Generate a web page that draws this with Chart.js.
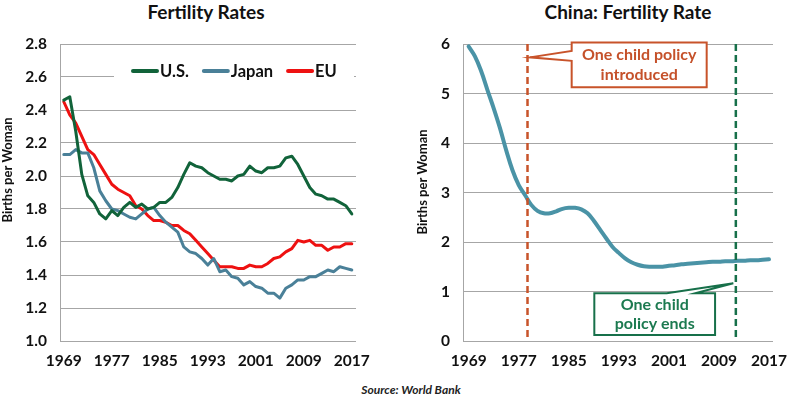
<!DOCTYPE html>
<html>
<head>
<meta charset="utf-8">
<script src="https://cdn.jsdelivr.net/npm/chart.js@4.4.1/dist/chart.umd.min.js"></script>
<style>
  body { margin: 0; background: #fff; width: 800px; height: 396px; overflow: hidden; position: relative; font-family: Lato, sans-serif; }
  canvas { position: absolute; top: 0; }
  #fertility { left: 0; }
  #china { left: 400px; }
  .title { position: absolute; top: 0; line-height: 26px; font: bold 19px Lato, sans-serif; color: #111; white-space: nowrap; transform: translateX(-50%); }
  #t1 { left: 206px; }
  #t2 { left: 628px; }
  #source { position: absolute; top: 382px; left: 411px; transform: translateX(-50%); line-height: 14px; font: italic bold 12px Lato, sans-serif; color: #222; white-space: nowrap; }
</style>
</head>
<body>
<div class="title" id="t1">Fertility Rates</div>
<div class="title" id="t2">China: Fertility Rate</div>
<canvas id="fertility" width="400" height="372"></canvas>
<canvas id="china" width="400" height="372"></canvas>
<div id="source">Source: World Bank</div>

<script>
// values (World Bank, births per woman)
const years = [1969, 1970, 1971, 1972, 1973, 1974, 1975, 1976, 1977, 1978,
  1979, 1980, 1981, 1982, 1983, 1984, 1985, 1986, 1987, 1988,
  1989, 1990, 1991, 1992, 1993, 1994, 1995, 1996, 1997, 1998,
  1999, 2000, 2001, 2002, 2003, 2004, 2005, 2006, 2007, 2008,
  2009, 2010, 2011, 2012, 2013, 2014, 2015, 2016, 2017];

const usRate = [2.46, 2.48, 2.27, 2.01, 1.88, 1.84, 1.77, 1.74, 1.79, 1.76,
  1.81, 1.84, 1.81, 1.83, 1.80, 1.81, 1.84, 1.84, 1.87, 1.93,
  2.01, 2.08, 2.06, 2.05, 2.02, 2.00, 1.98, 1.98, 1.97, 2.00,
  2.01, 2.06, 2.03, 2.02, 2.05, 2.05, 2.06, 2.11, 2.12, 2.07,
  2.00, 1.93, 1.89, 1.88, 1.86, 1.86, 1.84, 1.82, 1.77];

const japanRate = [2.13, 2.13, 2.16, 2.14, 2.14, 2.05, 1.91, 1.85, 1.80, 1.79,
  1.77, 1.75, 1.74, 1.77, 1.80, 1.81, 1.76, 1.72, 1.69, 1.66,
  1.57, 1.54, 1.53, 1.50, 1.46, 1.50, 1.42, 1.43, 1.39, 1.38,
  1.34, 1.36, 1.33, 1.32, 1.29, 1.29, 1.26, 1.32, 1.34, 1.37,
  1.37, 1.39, 1.39, 1.41, 1.43, 1.42, 1.45, 1.44, 1.43];

const euRate = [2.45, 2.37, 2.32, 2.24, 2.16, 2.13, 2.07, 2.01, 1.95, 1.92,
  1.90, 1.88, 1.82, 1.80, 1.76, 1.73, 1.73, 1.72, 1.70, 1.70,
  1.67, 1.65, 1.61, 1.57, 1.53, 1.49, 1.45, 1.45, 1.45, 1.44,
  1.44, 1.46, 1.45, 1.45, 1.47, 1.50, 1.51, 1.54, 1.56, 1.61,
  1.60, 1.61, 1.58, 1.58, 1.55, 1.57, 1.57, 1.59, 1.59];

const chinaRate = [5.95, 5.75, 5.45, 5.07, 4.70, 4.30, 3.85, 3.45, 3.15, 2.95,
  2.75, 2.63, 2.58, 2.58, 2.62, 2.67, 2.69, 2.69, 2.66, 2.58,
  2.43, 2.25, 2.07, 1.90, 1.78, 1.67, 1.59, 1.54, 1.51, 1.50,
  1.50, 1.50, 1.52, 1.53, 1.55, 1.56, 1.57, 1.58, 1.59, 1.60,
  1.60, 1.61, 1.61, 1.62, 1.62, 1.63, 1.63, 1.64, 1.65];

const tickYears = [1969, 1977, 1985, 1993, 2001, 2009, 2017];
const fertilityTicks = [1.0, 1.2, 1.4, 1.6, 1.8, 2.0, 2.2, 2.4, 2.6, 2.8];
const chinaTicks = [0, 1, 2, 3, 4, 5, 6];

// where the dashed policy markers sit on the year axis, as drawn
const policyIntroduced = 1978.4;
const policyEnded = 2011.7;

const tickFont = { family: 'Lato', size: 15.5, weight: 'bold' };
const gridGrey = '#a6a6a6';

function points(values) {
  return years.map((yr, i) => ({ x: yr, y: values[i] }));
}

function xAxis(min, max) {
  return {
    type: 'linear',
    min, max,
    afterBuildTicks: s => { s.ticks = tickYears.map(v => ({ value: v })); },
    afterFit: s => { s.height = 31; },
    grid: { display: false, drawTicks: false },
    border: { display: false },
    ticks: { color: '#111', font: tickFont, padding: 11, maxRotation: 0, autoSkip: false, callback: v => String(v) }
  };
}

function yAxis(ticks, width, fmt) {
  return {
    type: 'linear',
    min: ticks[0],
    max: ticks[ticks.length - 1],
    afterBuildTicks: s => { s.ticks = ticks.map(v => ({ value: v })); },
    afterFit: s => { s.width = width; },
    grid: { color: gridGrey, drawTicks: false },
    border: { color: gridGrey },
    ticks: { color: '#111', font: tickFont, padding: 13, callback: fmt }
  };
}

// rotated "Births per Woman" label, Excel puts it a little off centre
const axisTitle = {
  id: 'axisTitle',
  afterDraw(chart, args, opts) {
    const { ctx } = chart;
    ctx.save();
    ctx.translate(opts.x, opts.y);
    ctx.rotate(-Math.PI / 2);
    ctx.font = 'bold 13px Lato';
    ctx.fillStyle = '#111';
    ctx.textAlign = 'center';
    ctx.textBaseline = 'middle';
    ctx.fillText(opts.text, 0, 0);
    ctx.restore();
  }
};

// legend sits inside the plot on a white patch that hides the 2.6 gridline
const insideLegend = {
  id: 'insideLegend',
  beforeDatasetsDraw(chart, args, opts) {
    const { ctx } = chart;
    ctx.save();
    ctx.fillStyle = '#fff';
    ctx.fillRect(...opts.patch);
    ctx.font = 'bold 16.5px Lato';
    ctx.textBaseline = 'middle';
    let x = opts.x;
    chart.data.datasets.forEach(ds => {
      ctx.strokeStyle = ds.borderColor;
      ctx.lineWidth = 4;
      ctx.lineCap = 'round';
      ctx.beginPath();
      ctx.moveTo(x, opts.y);
      ctx.lineTo(x + opts.line, opts.y);
      ctx.stroke();
      x += opts.line + opts.gap;
      ctx.fillStyle = '#111';
      ctx.fillText(ds.label, x, opts.y + 1);
      x += ctx.measureText(ds.label).width + opts.spacing;
    });
    ctx.restore();
  }
};

// dashed policy lines + callout boxes, placed in data units
const policyMarks = {
  id: 'policyMarks',
  afterDatasetsDraw(chart, args, opts) {
    const { ctx, chartArea, scales: { x, y } } = chart;
    opts.marks.forEach(m => {
      const px = x.getPixelForValue(m.year);
      ctx.save();
      ctx.strokeStyle = m.color;
      ctx.lineWidth = 2.5;
      ctx.setLineDash([7, 4]);
      ctx.beginPath();
      ctx.moveTo(px, chartArea.top);
      ctx.lineTo(px, chartArea.bottom);
      ctx.stroke();
      ctx.setLineDash([]);

      const L = x.getPixelForValue(m.box[0]), R = x.getPixelForValue(m.box[1]);
      const T = y.getPixelForValue(m.box[2]), B = y.getPixelForValue(m.box[3]);
      const p = m.pointer.map(q => [x.getPixelForValue(q[0]), y.getPixelForValue(q[1])]);
      ctx.beginPath();
      ctx.moveTo(L, T);
      if (m.side === 'top') {
        ctx.lineTo(...p[0]); ctx.lineTo(...p[1]); ctx.lineTo(...p[2]);
        ctx.lineTo(R, T); ctx.lineTo(R, B); ctx.lineTo(L, B);
      } else {
        ctx.lineTo(R, T); ctx.lineTo(R, B); ctx.lineTo(L, B);
        ctx.lineTo(...p[2]); ctx.lineTo(...p[1]); ctx.lineTo(...p[0]);
      }
      ctx.closePath();
      ctx.fillStyle = '#fff';
      ctx.fill();
      ctx.lineWidth = 2;
      ctx.lineJoin = 'miter';
      ctx.strokeStyle = m.color;
      ctx.stroke();

      ctx.fillStyle = m.textColor;
      ctx.font = 'bold 16px Lato';
      ctx.textAlign = 'center';
      ctx.textBaseline = 'middle';
      const cx = (L + R) / 2, cy = (T + B) / 2;
      const lh = 19.5;
      m.text.forEach((line, i) => {
        ctx.fillText(line, cx, cy + (i - (m.text.length - 1) / 2) * lh);
      });
      ctx.restore();
    });
  }
};

const lineStyle = { borderWidth: 3, pointRadius: 0, tension: 0, borderJoinStyle: 'round', borderCapStyle: 'round' };

new Chart(document.getElementById('fertility'), {
  type: 'line',
  data: {
    datasets: [
      { label: 'U.S.', data: points(usRate), borderColor: '#11633a', ...lineStyle },
      { label: 'Japan', data: points(japanRate), borderColor: '#4a8098', ...lineStyle },
      { label: 'EU', data: points(euRate), borderColor: '#ee1111', ...lineStyle }
    ]
  },
  options: {
    responsive: false,
    animation: false,
    events: [],
    layout: { padding: { top: 44, right: 44, left: 0, bottom: 0 } },
    scales: {
      x: xAxis(1968.37, 2017.7),
      y: yAxis(fertilityTicks, 60, v => v.toFixed(1))
    },
    plugins: {
      legend: { display: false },
      tooltip: { enabled: false },
      axisTitle: { text: 'Births per Woman', x: 8, y: 170 },
      insideLegend: { x: 133, y: 71, line: 24, gap: 3, spacing: 15, patch: [114, 58, 240, 28] }
    }
  },
  plugins: [axisTitle, insideLegend]
});

new Chart(document.getElementById('china'), {
  type: 'line',
  data: {
    datasets: [
      { label: 'China', data: points(chinaRate), borderColor: '#4a93a6', borderWidth: 4, pointRadius: 0, tension: 0.4, borderCapStyle: 'round' }
    ]
  },
  options: {
    responsive: false,
    animation: false,
    events: [],
    layout: { padding: { top: 44, right: 27, left: 0, bottom: 0 } },
    scales: {
      x: xAxis(1968.09, 2017.64),
      y: yAxis(chinaTicks, 63, v => String(v))
    },
    plugins: {
      legend: { display: false },
      tooltip: { enabled: false },
      axisTitle: { text: 'Births per Woman', x: 23, y: 182 },
      policyMarks: {
        marks: [
          {
            year: policyIntroduced, color: '#c8532a', textColor: '#c5512a',
            box: [1985.46, 2007.04, 6.03, 5.125], side: 'left',
            pointer: [[1985.46, 5.86], [1978.8, 5.73], [1985.46, 5.66]],
            text: ['One child policy', 'introduced']
          },
          {
            year: policyEnded, color: '#17704a', textColor: '#1c7a50',
            box: [1989.08, 2008.38, 0.964, 0.121], side: 'top',
            pointer: [[2000.65, 0.964], [2011.3, 1.166], [2005.2, 0.964]],
            text: ['One child', 'policy ends']
          }
        ]
      }
    }
  },
  plugins: [axisTitle, policyMarks]
});
</script>
</body>
</html>
